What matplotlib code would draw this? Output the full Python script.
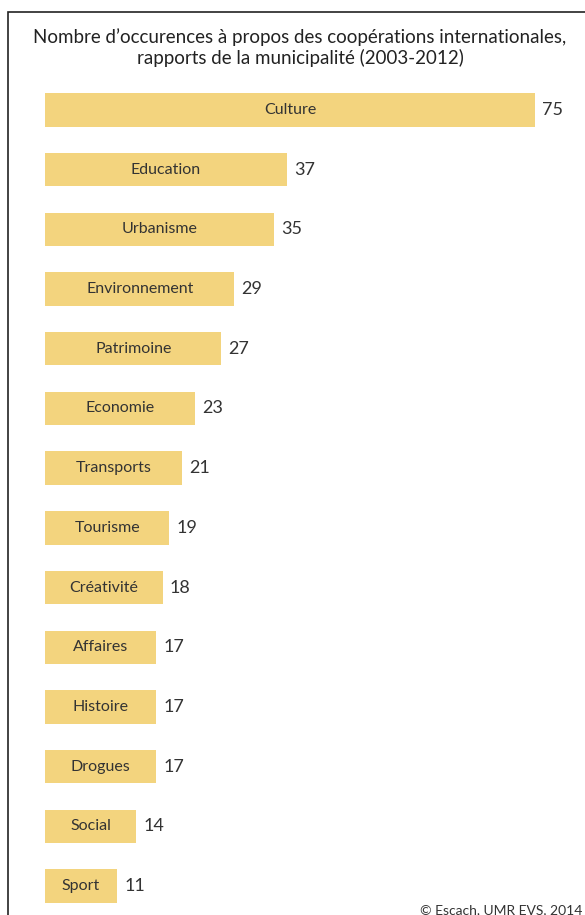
import matplotlib
matplotlib.use("Agg")
import matplotlib.pyplot as plt
from matplotlib.patches import Rectangle

themes = ["Culture", "Education", "Urbanisme", "Environnement", "Patrimoine",
          "Economie", "Transports", "Tourisme", "Créativité", "Affaires",
          "Histoire", "Drogues", "Social", "Sport"]
counts = [75, 37, 35, 29, 27, 23, 21, 19, 18, 17, 17, 17, 14, 11]

title = ("Nombre d\u2019occurences à propos des coopérations internationales,\n"
         "rapports de la municipalité (2003-2012)")
credit = "© Escach, UMR EVS, 2014"

plt.rcParams['font.family'] = ['Lato', 'DejaVu Sans']

W, H = 585, 915
fig = plt.figure(figsize=(W / 100, H / 100), dpi=100)
fig.patch.set_facecolor("white")

# frame around the whole figure, running off the right and bottom edges
fig.patches.append(Rectangle((8 / W, -0.05), 1.0, (H - 12) / H + 0.05,
                             transform=fig.transFigure, fill=False,
                             edgecolor="#222222", linewidth=1.2))

fig.text(300 / W, 1 - 48 / H, title, ha="center", va="center",
         fontsize=13.5, color="#222222", linespacing=1.2)

ax = fig.add_axes([45 / W, 0, 490 / W, 835 / H])
ypos = list(range(len(themes)))
ax.barh(ypos, counts, height=0.56, color="#f3d47e", edgecolor="none")
ax.set_xlim(0, 75)
ax.set_ylim(13.486, -0.5026)
ax.axis("off")

for y, name, v in zip(ypos, themes, counts):
    ax.text(v / 2, y, name, ha="center", va="center", fontsize=11.5,
            color="#333333")
    ax.text(v + 1.1, y, str(v), ha="left", va="center", fontsize=13,
            color="#333333")

fig.text(420 / W, 1 - 910 / H, credit, ha="left", va="center",
         fontsize=10, color="#333333")

fig.savefig("out.png", dpi=100)
